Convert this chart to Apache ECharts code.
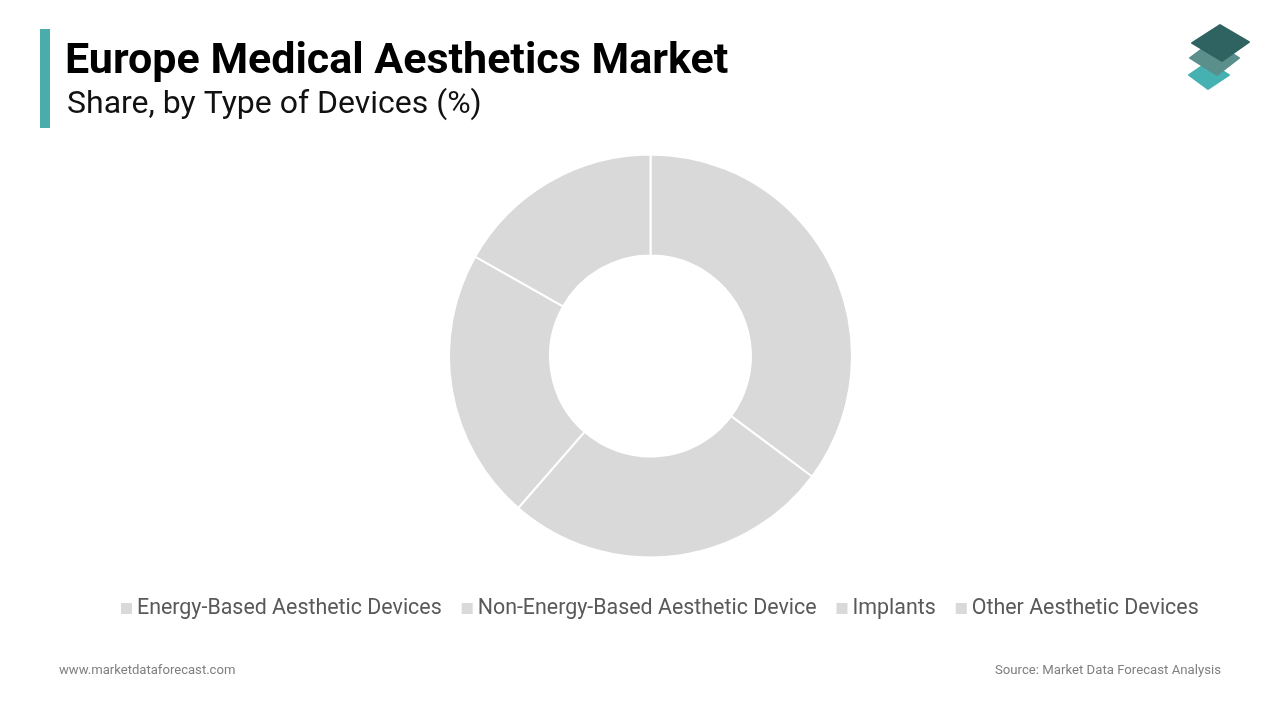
<!doctype html>
<html lang="en">
  <head>
    <meta charset="utf-8">
    <title>Europe Medical Aesthetics Market</title>
    <script src="https://cdn.jsdelivr.net/npm/echarts@6/dist/echarts.min.js"></script>
    <style>
      html, body {
        width: 100%;
        height: 100%;
        margin: 0;
        background: #fff;
      }

      #chart {
        width: 1280px;
        height: 720px;
      }
    </style>
  </head>
  <body>
    <div id="chart"></div>
    <script>
      const categories = ['Energy-Based Aesthetic Devices', 'Non-Energy-Based Aesthetic Device', 'Implants', 'Other Aesthetic Devices'];
      const shares = [35.2, 26.2, 21.8, 16.8];

      let chart = echarts.init(document.getElementById('chart'), null, {renderer: 'canvas'});

      // logo layers, bottom one first
      const logo = [
        {fill: '#45b1b1', points: [[1208, 62], [1229, 75], [1208, 89], [1189, 75]]},
        {fill: '#5a8f8c', points: [[1213, 41], [1239, 58], [1217, 75], [1190, 58]]},
        {fill: '#2f6361', points: [[1220, 25], [1249, 42], [1222, 61], [1192, 43]]}
      ];

      let option = {
        animation: false,
        textStyle: {fontFamily: 'Roboto'},
        title: [
          {
            text: 'Europe Medical Aesthetics Market',
            left: 65,
            top: 38,
            padding: 0,
            textStyle: {fontFamily: 'Roboto', fontSize: 43, fontWeight: 'bold', color: '#000', lineHeight: 48}
          },
          {
            text: 'Share, by Type of Devices (%)',
            left: 67,
            top: 87,
            padding: 0,
            textStyle: {fontFamily: 'Roboto', fontSize: 32, fontWeight: 'normal', color: '#111', lineHeight: 36}
          },
          {
            text: 'www.marketdataforecast.com',
            left: 59,
            top: 663,
            padding: 0,
            textStyle: {fontFamily: 'Roboto', fontSize: 13.1, fontWeight: 'normal', color: '#7f7f7f', lineHeight: 16}
          },
          {
            text: 'Source: Market Data Forecast Analysis',
            right: 59,
            top: 663,
            padding: 0,
            textStyle: {fontFamily: 'Roboto', fontSize: 13.2, fontWeight: 'normal', color: '#7f7f7f', lineHeight: 16}
          }
        ],
        legend: {
          data: categories,
          left: 121,
          top: 598,
          padding: 0,
          itemWidth: 11,
          itemHeight: 11,
          itemGap: 20,
          icon: 'rect',
          itemStyle: {borderWidth: 0},
          textStyle: {fontFamily: 'Roboto', fontSize: 21.4, color: '#595959', padding: [0, 0, 0, 0]}
        },
        graphic: [
          {type: 'rect', shape: {x: 40, y: 29, width: 10, height: 99}, style: {fill: '#4bacac'}}
        ].concat(logo.map((layer) => ({
          type: 'polygon',
          shape: {points: layer.points},
          style: {fill: layer.fill, lineJoin: 'round', stroke: layer.fill, lineWidth: 2}
        }))),
        series: [
          {
            type: 'pie',
            center: [650.5, 356],
            radius: [100.5, 201.5],
            startAngle: 90,
            clockwise: true,
            label: {show: false},
            labelLine: {show: false},
            itemStyle: {color: '#d9d9d9', borderColor: '#fff', borderWidth: 2},
            emphasis: {disabled: true},
            data: categories.map((name, i) => ({name: name, value: shares[i]}))
          }
        ]
      };

      chart.setOption(option);
    </script>
  </body>
</html>
